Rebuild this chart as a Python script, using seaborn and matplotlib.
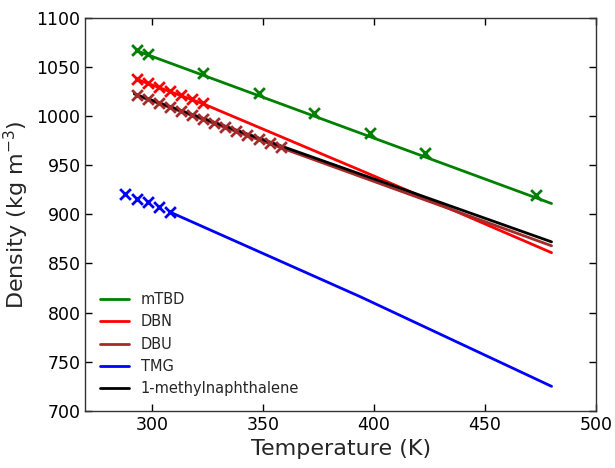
import matplotlib
matplotlib.use("Agg")
import matplotlib.pyplot as plt
import seaborn as sns
import pandas as pd

# measured points (markers)
mtbd_t = [293, 298, 323, 348, 373, 398, 423, 473]
mtbd_rho = [1067.4, 1063.4, 1043.7, 1023.4, 1003.0, 982.6, 962.3, 919.8]
dbn_t = [293, 298, 303, 308, 313, 318, 323]
dbn_rho = [1037.6, 1033.5, 1029.5, 1025.7, 1021.3, 1017.3, 1013.2]
dbu_t = [293, 298, 303, 308, 313, 318, 323, 328, 333, 338, 343, 348, 353, 358]
dbu_rho = [1021, 1017, 1013, 1009, 1005, 1001, 997, 993, 989, 985, 981, 977, 973, 969]
tmg_t = [288, 293, 298, 303, 308]
tmg_rho = [920.8, 915.7, 912.6, 907.5, 902.4]

# model curves
mtbd_line_t = [293, 480]
mtbd_line_rho = [1066.5, 911.0]
dbn_line_t = [293, 323, 400, 480]
dbn_line_rho = [1037.5, 1012.5, 939, 861]
dbu_line_t = [293, 480]
dbu_line_rho = [1021, 868]
tmg_line_t = [308, 394, 480]
tmg_line_rho = [902.4, 816, 725]
mnap_line_t = [292, 480]
mnap_line_rho = [1022.5, 872]

names = ["mTBD", "DBN", "DBU", "TMG", "1-methylnaphthalene"]
colors = ["green", "red", "brown", "blue", "black"]

sns.set_style("ticks")
plt.rcParams["font.family"] = ["DejaVu Sans"]
plt.rcParams["xtick.direction"] = "in"
plt.rcParams["ytick.direction"] = "in"
plt.rcParams["xtick.top"] = True
plt.rcParams["ytick.right"] = True

fig, ax = plt.subplots(figsize=(6.15, 4.68), dpi=100)
fig.subplots_adjust(left=0.139, right=0.969, bottom=0.122, top=0.962)

lines = [
    (mtbd_line_t, mtbd_line_rho),
    (dbn_line_t, dbn_line_rho),
    (dbu_line_t, dbu_line_rho),
    (tmg_line_t, tmg_line_rho),
    (mnap_line_t, mnap_line_rho),
]
points = [
    (mtbd_t, mtbd_rho),
    (dbn_t, dbn_rho),
    (dbu_t, dbu_rho),
    (tmg_t, tmg_rho),
]

for (t, rho), name, c in zip(points, names, colors):
    sns.scatterplot(x=t, y=rho, marker="x", s=60, linewidth=2, color=c,
                    legend=False, ax=ax, zorder=3)

for (t, rho), name, c in zip(lines, names, colors):
    df = pd.DataFrame({"T": t, "rho": rho})
    sns.lineplot(data=df, x="T", y="rho", color=c, linewidth=2, label=name,
                 ax=ax, zorder=2)

ax.set_xlim(270, 500)
ax.set_ylim(700, 1100)
ax.set_xticks([300, 350, 400, 450, 500])
ax.set_yticks(range(700, 1101, 50))
ax.tick_params(labelsize=12.5, length=5, width=1, colors="black")
for s in ax.spines.values():
    s.set_color("#333333")
    s.set_linewidth(1)
ax.set_xlabel("Temperature (K)", fontsize=16)
ax.set_ylabel("Density (kg m$^{-3}$)", fontsize=16)
ax.legend(loc="lower left", frameon=False, fontsize=10.5, handlelength=2.0,
          borderaxespad=0.6)

fig.savefig("out.png", dpi=100)
